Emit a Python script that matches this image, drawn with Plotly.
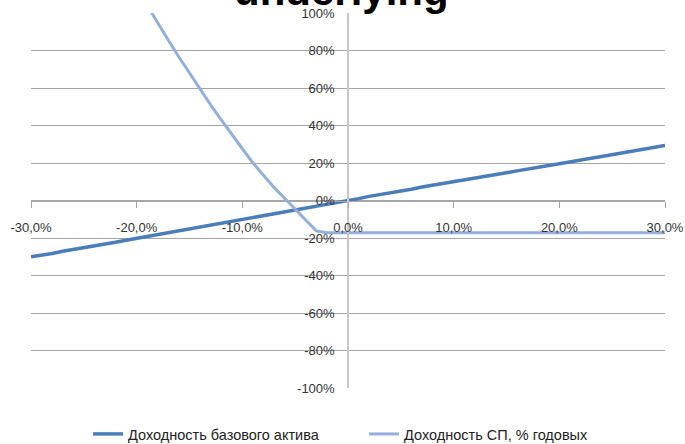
import plotly.graph_objects as go

# Underlying return, % (x axis)
x_pct = list(range(-30, 31))

# Series 1: Доходность базового актива, %
base_ret = [-30.0, -29.2, -28.3, -27.1, -26.2, -25.2, -24.3, -23.2, -22.3, -21.2,
            -20.2, -19.3, -18.2, -17.0, -16.2, -15.2, -14.3, -13.2, -12.1, -11.2,
            -10.2, -9.2, -8.2, -7.1, -6.2, -5.2, -4.1, -3.2, -2.2, -1.1,
            0.0, 1.0, 2.2, 3.1, 4.0, 5.0, 6.0, 7.2, 8.1, 9.0,
            10.0, 10.9, 12.0, 12.9, 13.8, 14.8, 15.8, 16.9, 17.8, 18.7,
            19.6, 20.7, 21.6, 22.5, 23.5, 24.4, 25.5, 26.4, 27.3, 28.3, 29.3]

# Series 2: Доходность СП, % годовых
sp_ret = [None, None, None, None, None, None, None, None, None, None,
          None, 104.0, 94.5, 85.5, 76.5, 68.0, 59.0, 51.0, 43.0, 35.5,
          27.5, 20.0, 13.5, 7.0, 1.2, -4.5, -10.2, -16.2, -17.2, -17.2,
          -17.2, -17.2, -17.2, -17.2, -17.2, -17.2, -17.2, -17.2, -17.2, -17.2,
          -17.2, -17.2, -17.2, -17.2, -17.2, -17.2, -17.2, -17.2, -17.2, -17.2,
          -17.2, -17.2, -17.2, -17.2, -17.2, -17.2, -17.2, -17.2, -17.2, -17.2, -17.2]

# Tick values and labels
x_ticks = [-30, -20, -10, 0, 10, 20, 30]
x_tick_labels = ["-30,0%", "-20,0%", "-10,0%", "0,0%", "10,0%", "20,0%", "30,0%"]
y_ticks = [-100, -80, -60, -40, -20, 0, 20, 40, 60, 80, 100]
y_tick_labels = ["-100%", "-80%", "-60%", "-40%", "-20%", "0%", "20%", "40%", "60%", "80%", "100%"]

name1 = "Доходность базового актива"
name2 = "Доходность СП, % годовых"
title_text = "underlying"

x_vals = [v / 100 for v in x_pct]
y1 = [v / 100 for v in base_ret]
y2 = [None if v is None else v / 100 for v in sp_ret]

fig = go.Figure()
fig.add_trace(go.Scatter(x=x_vals, y=y1, mode="lines", name=name1,
                         line=dict(color="#4A7EBB", width=3.5)))
fig.add_trace(go.Scatter(x=x_vals, y=y2, mode="lines", name=name2,
                         line=dict(color="#94B0DA", width=3)))

font_family = "Liberation Sans, Arial, sans-serif"

fig.update_layout(
    width=685, height=444,
    margin=dict(l=31, r=20, t=13, b=56, autoexpand=False),
    paper_bgcolor="white", plot_bgcolor="white",
    font=dict(family=font_family, size=13, color="#333333"),
    showlegend=True,
    legend=dict(orientation="h", x=0.09, xanchor="left",
                yref="container", y=1 - 434 / 444, yanchor="middle",
                entrywidth=231, entrywidthmode="pixels",
                font=dict(family=font_family, size=14.5, color="#222222"),
                bgcolor="rgba(0,0,0,0)"),
    xaxis=dict(range=[-0.3, 0.3], tickvals=[v / 100 for v in x_ticks], ticktext=x_tick_labels,
               showgrid=False, zeroline=False,
               showline=True, linecolor="#a6a6a6", linewidth=1,
               ticks="outside", ticklen=6, tickcolor="#a6a6a6",
               anchor="free", position=0.5, ticklabelstandoff=9,
               automargin=False, ticklabeloverflow="allow",
               tickfont=dict(size=13, color="#333333")),
    yaxis=dict(range=[-1, 1], tickvals=[v / 100 for v in y_ticks], ticktext=y_tick_labels,
               showgrid=True, gridcolor="#a6a6a6", gridwidth=1,
               zeroline=False, showline=True, linecolor="#c8c8c8", linewidth=1.5,
               ticks="", anchor="free", position=0.5, ticklabelstandoff=10,
               automargin=False, ticklabeloverflow="allow",
               tickfont=dict(size=13, color="#333333")),
    annotations=[dict(text="<b>" + title_text + "</b>", xref="paper", yref="paper",
                      x=0.4905, y=(388 - 16) / 375, xanchor="center", yanchor="bottom",
                      showarrow=False,
                      font=dict(family="Liberation Sans, Arial, sans-serif", size=42, color="black"))],
)

fig.write_html("out.html", config={"displayModeBar": False},
               post_script="document.body.style.margin='0';document.body.style.overflow='hidden';")
